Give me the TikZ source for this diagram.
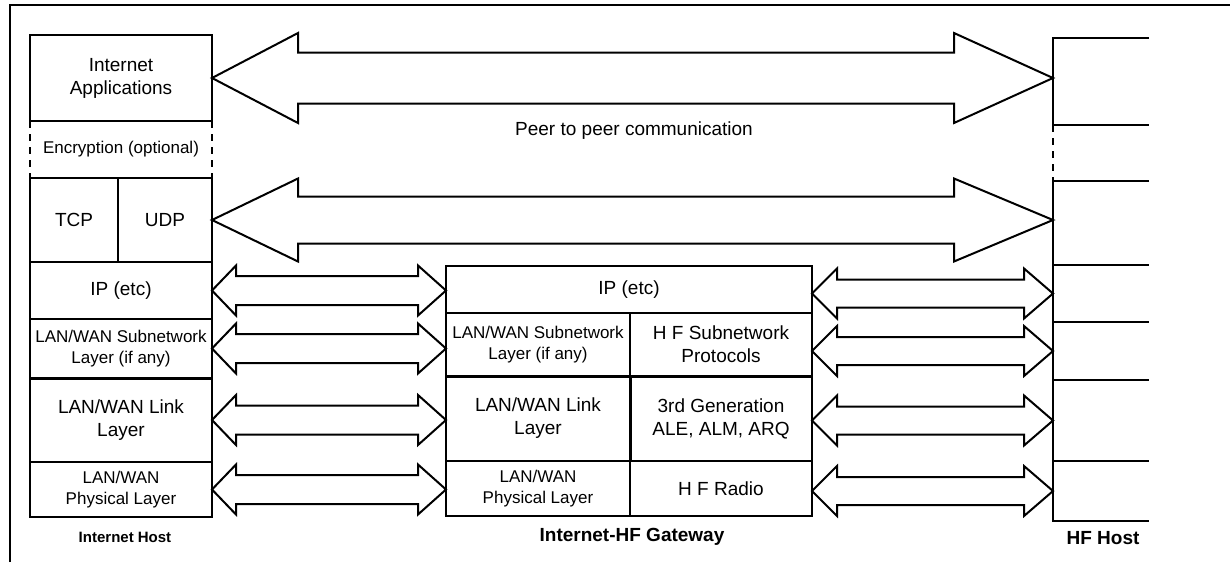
\documentclass[tikz,border=0pt]{standalone}
\usepackage{fontspec}
\setmainfont{Liberation Sans}
\usetikzlibrary{positioning,calc}
\tikzset{
  layer/.style    = {draw, line width=1pt, inner sep=0pt, outer sep=0pt,
                     align=center, font=\fontsize{9.5}{11.5}\selectfont},
  small/.style    = {font=\fontsize{8.5}{10.5}\selectfont},
  hostrow/.style  = {inner sep=0pt, outer sep=0pt, minimum width=48pt},
  edge/.style     = {line width=1pt},
  optl/.style     = {edge, dash pattern=on 3.5pt off 3pt},
  blkarrow/.style = {draw, line width=1pt, line join=miter, fill=white},
  caption/.style  = {font=\bfseries\fontsize{9.5}{11}\selectfont},
}
% block double arrow: tips #1,#2, height from #3, head half #4, shaft half #5, head lengths #6/#7
\newcommand{\dblarrow}[7]{%
  \draw[blkarrow] let \p1=(#1), \p2=(#2), \p3=(#3) in
    (\x1,\y3) -- (\x1+#6,\y3+#4) -- (\x1+#6,\y3+#5) -- (\x2-#7,\y3+#5)
    -- (\x2-#7,\y3+#4) -- (\x2,\y3) -- (\x2-#7,\y3-#4) -- (\x2-#7,\y3-#5)
    -- (\x1+#6,\y3-#5) -- (\x1+#6,\y3-#4) -- cycle;}

\begin{document}
\begin{tikzpicture}[x=0.5pt, y=-0.5pt]
  \useasboundingbox (0,0) rectangle (1230,562);
  \draw[edge] (10,562) -- (10,5) -- (1230,5);

  % ---- internet host ------------------------------------------------
  \node[layer, minimum width=91pt, minimum height=43pt] (app) at (121,78)
    {Internet\\Applications};
  \node[layer, draw=none, small, minimum width=91pt, minimum height=28.5pt]
    (enc) [below=0pt of app] {Encryption (optional)};
  \node[layer, minimum width=44pt, minimum height=42pt] (tcp)
    [below right=0pt and 0pt of enc.south west] {TCP};
  \node[layer, minimum width=47pt, minimum height=42pt] (udp)
    [right=0pt of tcp] {UDP};
  \node[layer, minimum width=91pt, minimum height=28.5pt] (ipL)
    [below right=0pt and 0pt of tcp.south west] {IP (etc)};
  \node[layer, small, minimum width=91pt, minimum height=29.5pt] (subL)
    [below=0pt of ipL] {LAN/WAN Subnetwork\\Layer (if any)};
  \node[layer, minimum width=91pt, minimum height=42pt] (linkL)
    [below=0pt of subL] {LAN/WAN Link\\Layer};
  \node[layer, small, minimum width=91pt, minimum height=27.5pt] (phyL)
    [below=0pt of linkL] {LAN/WAN\\Physical Layer};
  \draw[optl] (enc.north west) -- (enc.south west);
  \draw[optl] (enc.north east) -- (enc.south east);
  \draw[line width=1.5pt] (linkL.north west) -- (linkL.north east);

  % ---- gateway ------------------------------------------------------
  \node[layer, minimum width=183pt, minimum height=23.5pt] (ipG) at (629,289.5)
    {IP (etc)};
  \node[layer, small, minimum width=92pt, minimum height=31.5pt] (subG)
    [below right=0pt and 0pt of ipG.south west] {LAN/WAN Subnetwork\\Layer (if any)};
  \node[layer, minimum width=91pt, minimum height=31.5pt] (hfsub)
    [right=0pt of subG] {H F Subnetwork\\Protocols};
  \node[layer, minimum width=92pt, minimum height=42.5pt] (linkG)
    [below=0pt of subG] {LAN/WAN Link\\Layer};
  \node[layer, minimum width=91pt, minimum height=42.5pt] (ale)
    [below=0pt of hfsub] {3rd Generation\\ALE, ALM, ARQ};
  \node[layer, small, minimum width=92pt, minimum height=27.5pt] (phyG)
    [below=0pt of linkG] {LAN/WAN\\Physical Layer};
  \node[layer, minimum width=91pt, minimum height=27.5pt] (radio)
    [below=0pt of ale] {H F Radio};
  \draw[line width=1.5pt] (linkG.north west) -- (ale.north east);
  \draw[line width=1.5pt] (linkG.north east) -- (linkG.south east);

  % ---- HF host (open on the right) ----------------------------------
  \node[hostrow, minimum height=43.5pt] (hApp) at (1101,81.5) {};
  \node[hostrow, minimum height=28pt]   (hEnc)  [below=0pt of hApp] {};
  \node[hostrow, minimum height=42pt]   (hTcp)  [below=0pt of hEnc] {};
  \node[hostrow, minimum height=28.5pt] (hIp)   [below=0pt of hTcp] {};
  \node[hostrow, minimum height=29pt]   (hSub)  [below=0pt of hIp] {};
  \node[hostrow, minimum height=40.5pt] (hLink) [below=0pt of hSub] {};
  \node[hostrow, minimum height=30pt]   (hPhy)  [below=0pt of hLink] {};
  \draw[edge] (hApp.north east) -- (hApp.north west) -- (hApp.south west)
    -- (hApp.south east);
  \draw[optl] (hEnc.north west) -- (hEnc.south west);
  \draw[edge] (hTcp.north east) -- (hTcp.north west) -- (hPhy.south west)
    -- (hPhy.south east);
  \foreach \r in {hTcp,hIp,hSub,hLink}
    \draw[edge] (\r.south west) -- (\r.south east);

  % ---- peer arrows --------------------------------------------------
  \dblarrow{app.east}{hApp.west}{app.east}{22.5pt}{12.75pt}{43pt}{49.5pt}
  \dblarrow{udp.east}{hTcp.west}{udp.east}{20.75pt}{11.75pt}{43pt}{49.5pt}
  \foreach \a/\b in {ipL/ipG, subL/subG, linkL/linkG, phyL/phyG}
    {\dblarrow{\a.east}{\b.west}{\a.east}{12.5pt}{7.25pt}{12pt}{14pt}}
  \foreach \a/\b in {ipG/hIp, hfsub/hSub, ale/hLink, radio/hPhy}
    {\dblarrow{\a.east}{\b.west}{\b.west}{12.5pt}{7pt}{12.5pt}{14.5pt}}

  \node[font=\fontsize{9.5}{11}\selectfont] (peer) at (634,131)
    {Peer to peer communication};

  % ---- captions -----------------------------------------------------
  \node[caption, font=\bfseries\fontsize{7.5}{9}\selectfont] (hostcap)
    at (125,537) {Internet Host};
  \node[caption] (gwcap) at (632,537) {Internet-HF Gateway};
  \node[caption] (hfcap) at (1103,538) {HF Host};
\end{tikzpicture}
\end{document}
